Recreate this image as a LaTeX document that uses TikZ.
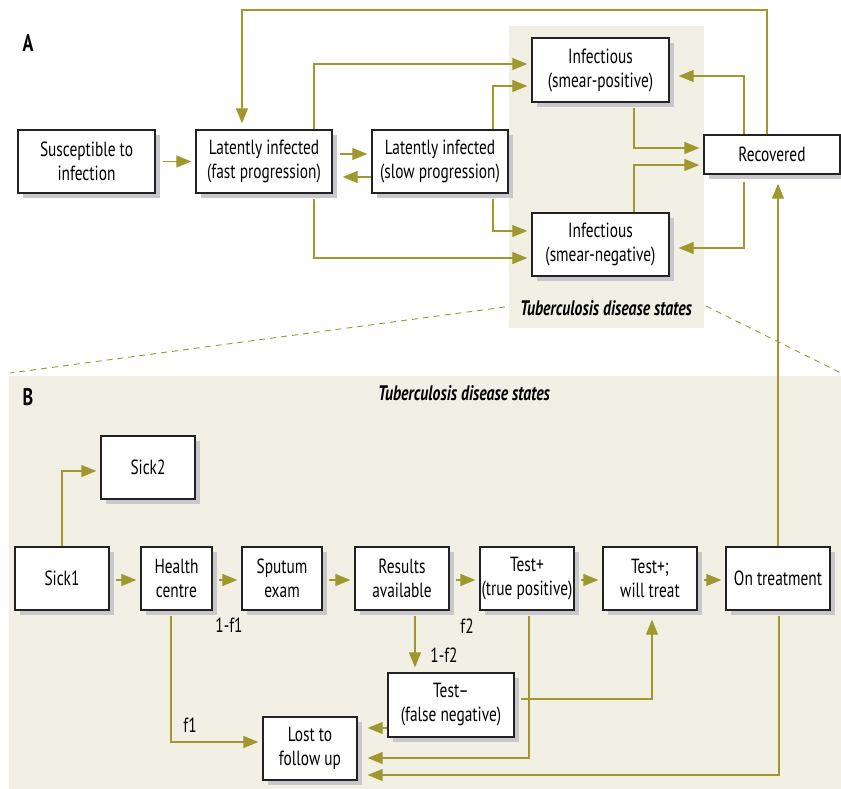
\documentclass[tikz,border=0pt]{standalone}
\usepackage{fontspec}
\setmainfont[FakeStretch=0.75]{PT Sans}
\usetikzlibrary{arrows.meta,shadows}
\definecolor{olive}{HTML}{9E982F}
\definecolor{beige}{HTML}{F2F0E4}
\definecolor{shadowgray}{HTML}{C8C8CC}
\definecolor{boxline}{HTML}{222222}
\tikzset{
  box/.style={draw=boxline, line width=1.3pt, fill=white, inner sep=0pt, align=center,
    font=\fontsize{20.5}{24}\selectfont,
    general shadow={fill=shadowgray, shadow xshift=5pt, shadow yshift=-5pt}},
  arr/.style={draw=olive, line width=1.2pt, -{Triangle[length=15pt,width=12pt]}},
  lbl/.style={font=\fontsize{20.5}{24}\selectfont, inner sep=0pt},
  title/.style={font=\fontsize{21}{25}\selectfont\bfseries\itshape, inner sep=0pt},
  panel/.style={font=\fontsize{24}{28}\selectfont\bfseries, inner sep=0pt},
}
\begin{document}
\begin{tikzpicture}[x=1pt,y=-1pt]
\useasboundingbox (0,0) rectangle (841,789);
% backgrounds
\fill[beige] (509,26) rectangle (704,328);
\fill[beige] (9,376) rectangle (845,795);
\draw[olive, line width=0.9pt, dash pattern=on 6pt off 5pt] (505,307) -- (10,373);
\draw[olive, line width=0.9pt, dash pattern=on 6pt off 5pt] (706,306) -- (841,373);
% labels
\node[panel] (lA) at (28,43) {A};
\node[panel] (lB) at (28,397) {B};
\node[title] (tA) at (606,308) {Tuberculosis disease states};
\node[title] (tB) at (464,393) {Tuberculosis disease states};
% panel A boxes
\node[box, minimum width=137pt, minimum height=63pt] (sus) at (86.5,161.5) {Susceptible to\\infection};
\node[box, minimum width=136pt, minimum height=63pt] (fast) at (264,161.5) {Latently infected\\(fast progression)};
\node[box, minimum width=136pt, minimum height=63pt] (slow) at (440,161.5) {Latently infected\\(slow progression)};
\node[box, minimum width=137pt, minimum height=64pt] (spos) at (600.5,70) {Infectious\\(smear-positive)};
\node[box, minimum width=137pt, minimum height=63pt] (sneg) at (600.5,244.5) {Infectious\\(smear-negative)};
\node[box, minimum width=136pt, minimum height=39pt] (rec) at (772,154.5) {Recovered};
% panel B boxes
\node[box, minimum width=94pt, minimum height=63pt] (sick2) at (148,467.5) {Sick2};
\node[box, minimum width=94pt, minimum height=63pt] (sick1) at (62,578.5) {Sick1};
\node[box, minimum width=71pt, minimum height=63pt] (health) at (176.5,578.5) {Health\\centre};
\node[box, minimum width=80pt, minimum height=63pt] (sputum) at (282,578.5) {Sputum\\exam};
\node[box, minimum width=94pt, minimum height=63pt] (results) at (402,578.5) {Results\\available};
\node[box, minimum width=94pt, minimum height=63pt] (tpos) at (527,578.5) {Test+\\(true positive)};
\node[box, minimum width=94pt, minimum height=63pt] (treat) at (650,578.5) {Test+;\\will treat};
\node[box, minimum width=104pt, minimum height=63pt] (ontr) at (778,578.5) {On treatment};
\node[box, minimum width=126pt, minimum height=64pt] (tneg) at (451,705) {Test--\\(false negative)};
\node[box, minimum width=94pt, minimum height=63pt] (lost) at (310,748.5) {Lost to\\follow up};
% panel A connectors
\draw[arr, shorten <=7pt, shorten >=4pt] (sus.east) -- (fast.west);
\draw[arr, shorten <=7pt, shorten >=4pt] ([yshift=7.5pt]fast.east) -- ([yshift=7.5pt]slow.west);
\draw[arr, shorten >=10pt] ([yshift=-15.5pt]slow.west) -- ([yshift=-15.5pt]fast.east);
\draw[arr, shorten >=6pt] ([xshift=-5pt]rec.north) |- (242,10) -- ([xshift=-22pt]fast.north);
\draw[arr, shorten >=4pt] ([xshift=50pt]fast.north) |- ([yshift=6pt]spos.west);
\draw[arr, shorten >=4pt] ([xshift=53pt]slow.north) |- ([yshift=-16pt]spos.west);
\draw[arr, shorten <=5pt, shorten >=4pt] ([xshift=53pt]slow.south) |- ([yshift=13.5pt]sneg.west);
\draw[arr, shorten <=5pt, shorten >=4pt] ([xshift=50pt]fast.south) |- ([yshift=-13.5pt]sneg.west);
\draw[arr, shorten <=5pt, shorten >=4pt] ([xshift=33.5pt]spos.south) |- ([yshift=6.5pt]rec.west);
\draw[arr, shorten >=4pt] ([xshift=33.5pt]sneg.north) |- ([yshift=-10.5pt]rec.west);
\draw[arr, shorten >=9pt] ([xshift=-28pt]rec.north) |- ([yshift=-6pt]spos.east);
\draw[arr, shorten <=7pt, shorten >=9pt] ([xshift=-28pt]rec.south) |- ([yshift=-3.5pt]sneg.east);
\draw[arr, shorten >=9pt] (ontr.north) -- (ontr.north |- rec.south);
% panel B connectors
\draw[arr, shorten >=4pt] (sick1.north) |- ([yshift=-3.5pt]sick2.west);
\draw[arr, shorten <=6pt, shorten >=4pt] ([yshift=-1.5pt]sick1.east) -- ([yshift=-1.5pt]health.west);
\draw[arr, shorten <=6pt, shorten >=4pt] ([yshift=-1.5pt]health.east) -- ([yshift=-1.5pt]sputum.west);
\draw[arr, shorten <=6pt, shorten >=4pt] ([yshift=-1.5pt]sputum.east) -- ([yshift=-1.5pt]results.west);
\draw[arr, shorten <=6pt, shorten >=4pt] ([yshift=-1.5pt]results.east) -- ([yshift=-1.5pt]tpos.west);
\draw[arr, shorten <=6pt, shorten >=4pt] ([yshift=-1.5pt]tpos.east) -- ([yshift=-1.5pt]treat.west);
\draw[arr, shorten <=6pt, shorten >=4pt] ([yshift=-1.5pt]treat.east) -- ([yshift=-1.5pt]ontr.west);
\draw[arr, shorten <=5pt, shorten >=4pt] ([xshift=-5.5pt]health.south) |- ([yshift=6.5pt]lost.west);
\draw[arr, shorten <=5pt, shorten >=5pt] ([xshift=13pt]results.south) -- ([xshift=13pt]results.south |- tneg.north);
\draw[arr, shorten >=10pt] ([yshift=-23pt]tneg.west) -- ([yshift=-23pt]tneg.west -| lost.east);
\draw[arr, shorten <=5pt, shorten >=10pt] ([xshift=2pt]tpos.south) |- ([yshift=-9.5pt]lost.east);
\draw[arr, shorten <=5pt, shorten >=10pt] ([xshift=1pt]ontr.south) |- ([yshift=-26.5pt]lost.east);
\draw[arr, shorten <=6pt, shorten >=9pt] ([yshift=6pt]tneg.east) -| ([xshift=2pt]treat.south);
% connector labels
\node[lbl] (l1) at (229,625) {1-f1};
\node[lbl] (l2) at (190,725) {f1};
\node[lbl] (l3) at (467,626) {f2};
\node[lbl] (l4) at (444,655) {1-f2};
\end{tikzpicture}
\end{document}
